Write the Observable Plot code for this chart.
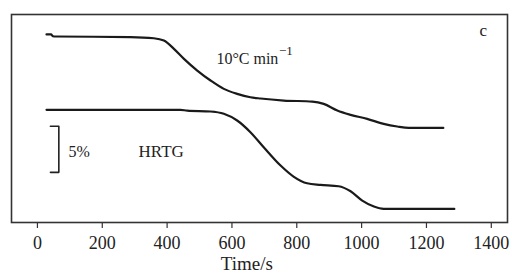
<!DOCTYPE html>
<html>
<head>
<meta charset="utf-8">
<script src="https://cdn.jsdelivr.net/npm/d3@7"></script>
<script src="https://cdn.jsdelivr.net/npm/@observablehq/plot@0.6"></script>
<style>
  html, body { margin: 0; padding: 0; background: #fff; }
  #chart svg, #chart svg text { font-family: "Liberation Serif", "Times New Roman", serif !important; }
</style>
</head>
<body>
<div id="chart"></div>
<script>
// Upper curve (10 °C/min TG), time in s, relative mass-loss position in %
const upperTime = [28, 42, 48, 56, 287, 359, 390, 421, 452, 493, 534, 575, 616, 657, 688, 760, 848, 883, 925, 966, 1017, 1068, 1110, 1146, 1252];
const upperLoss = [2.17, 2.17, 2.36, 2.39, 2.45, 2.58, 2.83, 3.73, 4.82, 6.09, 7.17, 8.08, 8.62, 8.99, 9.13, 9.35, 9.46, 9.71, 10.43, 10.9, 11.34, 11.88, 12.17, 12.32, 12.32];
// Lower curve (HRTG)
const lowerTime = [28, 441, 462, 534, 575, 616, 657, 698, 750, 790, 832, 873, 929, 966, 1002, 1038, 1068, 1286];
const lowerLoss = [10.36, 10.36, 10.45, 10.54, 10.79, 11.52, 12.79, 14.42, 16.41, 17.61, 18.34, 18.51, 18.66, 19.21, 20.22, 20.87, 21.12, 21.12];
// 5 % scale bar
const barTime = [40, 66, 66, 40];
const barLoss = [12.15, 12.15, 17.15, 17.15];
// x tick labels
const xTicks = [0, 200, 400, 600, 800, 1000, 1200, 1400];
// annotations
const notes = [
  {t: 96, v: 14.9, text: "5%", size: 16},
  {t: 312, v: 14.9, text: "HRTG", size: 17},
  {t: 552, v: 4.78, text: "10°C min", size: 16},
  {t: 745, v: 3.95, text: "−1", size: 13},
  {t: 1364, v: 1.74, text: "c", size: 17}
];

const upper = upperTime.map((t, i) => ({t, v: upperLoss[i]}));
const lower = lowerTime.map((t, i) => ({t, v: lowerLoss[i]}));
const bar = barTime.map((t, i) => ({t, v: barLoss[i]}));
const serif = "Liberation Serif";

const chart = Plot.plot({
  width: 512,
  height: 276,
  marginLeft: 11,
  marginRight: 5,
  marginTop: 14,
  marginBottom: 54,
  style: {fontFamily: serif, fontSize: "17px", color: "#222", background: "#fff"},
  x: {domain: [-80, 1450]},
  y: {domain: [22.6, 0], axis: null},
  marks: [
    Plot.axisX({ticks: xTicks, tickSize: 6, tickPadding: 8, tickFormat: d => String(d), label: null, stroke: "#333", strokeWidth: 1.2, fill: "#222", fontSize: 18, fontFamily: serif}),
    Plot.frame({stroke: "#333", strokeWidth: 1.6}),
    Plot.line(upper, {x: "t", y: "v", curve: "monotone-x", stroke: "#1a1a1a", strokeWidth: 2.2}),
    Plot.line(lower, {x: "t", y: "v", curve: "monotone-x", stroke: "#1a1a1a", strokeWidth: 2.2}),
    Plot.line(bar, {x: "t", y: "v", stroke: "#222", strokeWidth: 1.6}),
    ...notes.map(n => Plot.text([n], {x: "t", y: "v", text: "text", textAnchor: "start", fontSize: n.size, fontFamily: serif, fill: "#222"})),
    Plot.text(["Time/s"], {x: 646, frameAnchor: "bottom", dy: 47, fontSize: 19, fontFamily: serif, fill: "#222"})
  ]
});
document.getElementById("chart").appendChild(chart);
</script>
</body>
</html>
